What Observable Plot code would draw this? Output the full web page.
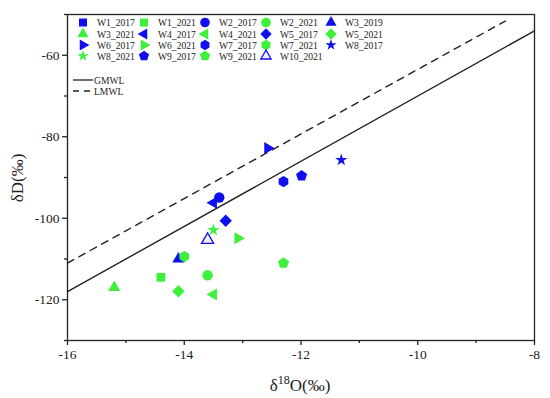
<!DOCTYPE html>
<html>
<head>
<meta charset="utf-8">
<script src="https://cdn.jsdelivr.net/npm/d3@7"></script>
<script src="https://cdn.jsdelivr.net/npm/@observablehq/plot@0.6"></script>
<style>
  html, body { margin: 0; padding: 0; background: #fff; }
</style>
</head>
<body>
<div id="chart"></div>
<script>
// ---- Data ----
const series = ["W1_2017","W1_2021","W2_2017","W2_2021","W3_2019",
                "W3_2021","W4_2017","W4_2021","W5_2017","W5_2021",
                "W6_2017","W6_2021","W7_2017","W7_2021","W8_2017",
                "W8_2021","W9_2017","W9_2021","W10_2021"];

const sampleSite = ["W3_2021","W1_2021","W5_2021","W3_2019","W7_2021","W4_2021",
                    "W2_2021","W10_2021","W8_2021","W6_2021","W5_2017","W4_2017",
                    "W2_2017","W9_2021","W7_2017","W9_2017","W6_2017","W8_2017"];
const sampleO18 = [-15.2, -14.4, -14.1, -14.1, -14.0, -13.5,
                   -13.6, -13.6, -13.5, -13.08, -13.29, -13.5,
                   -13.4, -12.3, -12.3, -11.99, -12.57, -11.31];
const sampleD   = [-117.0, -114.5, -117.9, -110.0, -109.4, -118.7,
                   -114.0, -105.3, -102.9, -104.9, -100.6, -96.2,
                   -94.9, -111.0, -91.0, -89.6, -82.8, -85.7];

const gmwlX = [-16, -8];
const gmwlY = [-118, -54];
const lmwlX = [-16, -8.5];
const lmwlY = [-111, -51.6];

const xTicks = [-16, -14, -12, -10, -8];
const xMinor = [-15, -13, -11, -9];
const yTicks = [-120, -100, -80, -60];
const yMinor = [-130, -110, -90, -70, -50];

// ---- Styles ----
const BLUE = "#1010ee";
const GREEN = "#3cf03c";
const SERIF = "'Liberation Serif', 'DejaVu Serif', serif";

const s3 = Math.sqrt(3);
function triPts(size) { return -Math.sqrt(size / (s3 * 3)); }
const scaled = (sym, k) => ({draw(ctx, size) { sym.draw(ctx, size * k); }});
const triUp = {draw(ctx, size) { const y = triPts(size);
  ctx.moveTo(0, 2*y); ctx.lineTo(-s3*y, -y); ctx.lineTo(s3*y, -y); ctx.closePath(); }};
const triLeft = {draw(ctx, size) { const y = triPts(size);
  ctx.moveTo(2*y, 0); ctx.lineTo(-y, s3*y); ctx.lineTo(-y, -s3*y); ctx.closePath(); }};
const triRight = {draw(ctx, size) { const y = triPts(size);
  ctx.moveTo(-2*y, 0); ctx.lineTo(y, s3*y); ctx.lineTo(y, -s3*y); ctx.closePath(); }};
const pentagon = {draw(ctx, size) {
  const r = Math.sqrt(size / (2.5 * Math.sin(2*Math.PI/5)));
  for (let k = 0; k < 5; k++) { const a = -Math.PI/2 + k*2*Math.PI/5;
    const px = r*Math.cos(a), py = r*Math.sin(a); k ? ctx.lineTo(px, py) : ctx.moveTo(px, py); }
  ctx.closePath(); }};
const hexagon = {draw(ctx, size) {
  const r = Math.sqrt(size / (1.5 * s3));
  for (let k = 0; k < 6; k++) { const a = -Math.PI/2 + k*Math.PI/3;
    const px = r*Math.cos(a), py = r*Math.sin(a); k ? ctx.lineTo(px, py) : ctx.moveTo(px, py); }
  ctx.closePath(); }};
const diamond = {draw(ctx, size) { const r = Math.sqrt(size/2);
  ctx.moveTo(0, -r); ctx.lineTo(r, 0); ctx.lineTo(0, r); ctx.lineTo(-r, 0); ctx.closePath(); }};

const sq = scaled(d3.symbolSquare, 0.9);
const ci = d3.symbolCircle;
const tu = scaled(triUp, 0.75);
const tl = scaled(triLeft, 0.75);
const tr = scaled(triRight, 0.75);
const di = scaled(diamond, 0.9);
const hx = scaled(hexagon, 0.95);
const st = scaled(d3.symbolStar, 0.55);
const pe = scaled(pentagon, 0.95);

const symbolRange = [sq, sq, ci, ci, tu,
                     tu, tl, tl, di, di,
                     tr, tr, hx, hx, st,
                     st, pe, pe, tu];
const colorRange = series.map(s => s.endsWith("2021") ? GREEN : BLUE);

const points = sampleSite.map((s, i) => ({site: s, o18: sampleO18[i], d: sampleD[i]}));
const filled = points.filter(p => p.site !== "W10_2021");
const open = points.filter(p => p.site === "W10_2021");
const gmwl = gmwlX.map((x, i) => ({x, y: gmwlY[i]}));
const lmwl = lmwlX.map((x, i) => ({x, y: lmwlY[i]}));

const fmt = d => String(d);

const plot = Plot.plot({
  width: 550,
  height: 398,
  marginLeft: 67,
  marginRight: 16,
  marginTop: 14,
  marginBottom: 58,
  style: {fontFamily: SERIF, fontSize: "13.5px", color: "#222", background: "#fff"},
  x: {domain: [-16, -8], label: null},
  y: {domain: [-130, -50], label: null},
  symbol: {domain: series, range: symbolRange},
  color: {domain: series, range: colorRange},
  marks: [
    Plot.axisX({ticks: xTicks, tickSize: 5, tickPadding: 4, tickFormat: fmt, strokeWidth: 1.3}),
    Plot.axisX({ticks: xMinor, tickSize: 3, tickFormat: () => "", strokeWidth: 1.3}),
    Plot.axisY({ticks: yTicks, tickSize: 5, tickPadding: 3, tickFormat: fmt, strokeWidth: 1.3}),
    Plot.axisY({ticks: yMinor, tickSize: 3, tickFormat: () => "", strokeWidth: 1.3}),
    Plot.line(gmwl, {x: "x", y: "y", stroke: "#222", strokeWidth: 1.4}),
    Plot.line(lmwl, {x: "x", y: "y", stroke: "#222", strokeWidth: 1.4, strokeDasharray: "7,6"}),
    Plot.dot(filled, {x: "o18", y: "d", symbol: "site", fill: "site", r: 5.2}),
    Plot.dot(open, {x: "o18", y: "d", symbol: "site", fill: "#eef", stroke: BLUE, strokeWidth: 1.3, r: 5.2}),
    Plot.frame({stroke: "#222", strokeWidth: 1.3})
  ]
});

const svg = d3.select(plot);

// axis titles
svg.append("text")
  .attr("transform", "translate(23,178) rotate(-90)")
  .attr("text-anchor", "middle")
  .attr("font-family", SERIF).attr("font-size", 17).attr("fill", "#222")
  .text("δD(‰)");

const xt = svg.append("text")
  .attr("x", 300).attr("y", 391)
  .attr("text-anchor", "middle")
  .attr("font-family", SERIF).attr("font-size", 17).attr("fill", "#222");
xt.append("tspan").text("δ");
xt.append("tspan").attr("font-size", 12).attr("dy", -7).text("18");
xt.append("tspan").attr("dy", 7).text("O(‰)");

// legend
const colX = [83, 144, 205, 266, 331];
const rowY = [22.5, 34, 45, 56];
const lg = svg.append("g").attr("font-family", SERIF).attr("font-size", 9.6)
  .attr("fill", "#222").attr("text-anchor", "start");
series.forEach((s, i) => {
  const cx = colX[i % 5], cy = rowY[Math.floor(i / 5)];
  const isOpen = s === "W10_2021";
  lg.append("path")
    .attr("transform", `translate(${cx},${cy})`)
    .attr("d", d3.symbol(symbolRange[i], isOpen ? 62 : 72)())
    .attr("fill", isOpen ? "#eef" : colorRange[i])
    .attr("stroke", isOpen ? BLUE : "none")
    .attr("stroke-width", 1.3);
  lg.append("text").attr("x", cx + 14).attr("y", cy + 3.5).text(s);
});
const lineLeg = [["GMWL", null, 80], ["LMWL", "6,5", 91]];
lineLeg.forEach(([name, dash, y]) => {
  lg.append("line").attr("x1", 73).attr("x2", 93).attr("y1", y).attr("y2", y)
    .attr("stroke", "#222").attr("stroke-width", 1.3)
    .attr("stroke-dasharray", dash);
  lg.append("text").attr("x", 94).attr("y", y + 3.5).text(name);
});

document.getElementById("chart").appendChild(plot);
</script>
</body>
</html>
